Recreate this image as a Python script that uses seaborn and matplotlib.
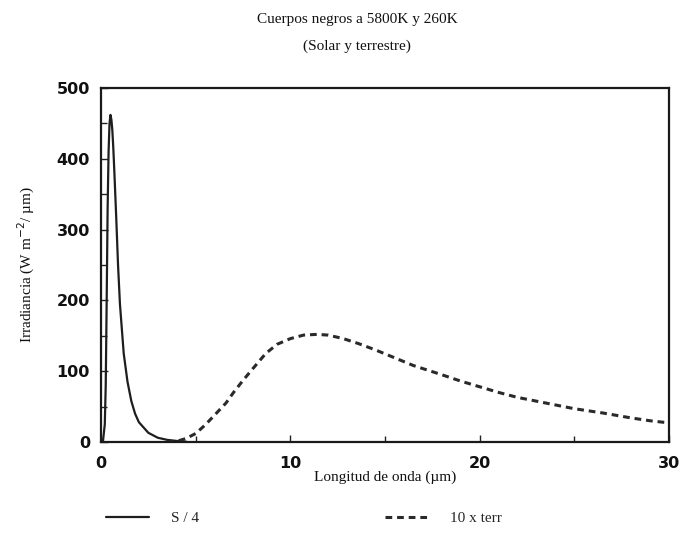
import numpy as np
import pandas as pd
import matplotlib
matplotlib.use("Agg")
import matplotlib.pyplot as plt
import seaborn as sns

# Solar (S/4) curve
solar_x = [0.1, 0.2, 0.25, 0.3, 0.35, 0.4, 0.45, 0.5, 0.55, 0.6, 0.65, 0.7, 0.8, 0.9, 1.0, 1.2, 1.4, 1.6, 1.8, 2.0, 2.5, 3.0, 3.5, 4.0, 4.5]
solar_y = [0, 25, 80, 200, 330, 410, 450, 462, 455, 440, 415, 385, 320, 250, 195, 125, 85, 58, 40, 28, 13, 6, 3, 1.5, 0.5]

# Terrestrial (10 x terr) curve
terr_x = [3.5, 4.0, 4.5, 5.0, 5.5, 6.0, 6.6, 7.0, 7.5, 8.0, 8.7, 9.3, 10.0, 10.7, 11.4, 12.0, 12.8, 13.6, 14.5, 15.5, 16.5, 18.0, 19.0, 20.0, 21.0, 22.0, 23.5, 25.0, 26.5, 28.0, 29.0, 30.0]
terr_y = [0, 1, 5, 12, 24, 38, 55, 70, 87, 103, 125, 138, 146, 151, 152, 151, 146, 139, 130, 119, 108, 95, 86, 78, 70, 63, 55, 47, 41, 34, 30, 27]

x_ticks = [0, 10, 20, 30]
y_ticks = [0, 100, 200, 300, 400, 500]

sns.set_theme(style="white")
plt.rcParams['font.family'] = ['DejaVu Sans']

fig = plt.figure(figsize=(6.81, 5.51), dpi=100)
ax = fig.add_axes([101/681, 1-442/551, (669-101)/681, (442-88)/551])

df_s = pd.DataFrame({"x": solar_x, "y": solar_y})
df_t = pd.DataFrame({"x": terr_x, "y": terr_y})
sns.lineplot(data=df_s, x="x", y="y", ax=ax, color="#1e1e1e", lw=1.6, label="S / 4", sort=False)
sns.lineplot(data=df_t, x="x", y="y", ax=ax, color="#2a2a2a", lw=2.2, label="10 x terr", sort=False)
ax.lines[1].set_dashes([2.2, 1.6])

ax.set_xlim(0, 30)
ax.set_ylim(0, 500)
ax.set_xticks(x_ticks)
ax.set_yticks(y_ticks)
ax.set_xticks(np.arange(0, 31, 5), minor=True)
ax.set_yticks(np.arange(0, 501, 50), minor=True)
ax.set_xticklabels([str(v) for v in x_ticks], fontweight="bold", fontsize=11.5)
ax.set_yticklabels([str(v) for v in y_ticks], fontweight="bold", fontsize=11.5)
ax.tick_params(axis="both", which="both", direction="in", length=4, width=1, color="#222",
               labelcolor="#111", bottom=True, left=True)
ax.tick_params(axis="both", which="major", length=5)
ax.tick_params(axis="x", which="major", pad=10)
ax.tick_params(axis="y", which="major", pad=8)
for s in ax.spines.values():
    s.set_color("#1a1a1a")
    s.set_linewidth(1.6)

serif = ["Liberation Serif", "DejaVu Serif"]
ax.set_xlabel("Longitud de onda (µm)", family=serif, fontsize=11, labelpad=0, color="#111")
ax.set_ylabel("Irradiancia (W m$^{-2}$/ µm)", family=serif, fontsize=11, labelpad=14, color="#111")

fig.text(357/681, 1-19/551, "Cuerpos negros a 5800K y 260K", family=serif, fontsize=11, ha="center", va="center", color="#111")
fig.text(357/681, 1-46/551, "(Solar y terrestre)", family=serif, fontsize=11, ha="center", va="center", color="#111")

ax.get_legend().remove()
handles, labels = ax.get_legend_handles_labels()
leg = fig.legend(handles, labels, loc="center", bbox_to_anchor=(304/681, 1-518/551), ncol=2,
                 frameon=False, handlelength=2.8, columnspacing=12.2, handletextpad=1.45,
                 prop={"family": serif, "size": 11})

fig.savefig("out.png", dpi=100)
